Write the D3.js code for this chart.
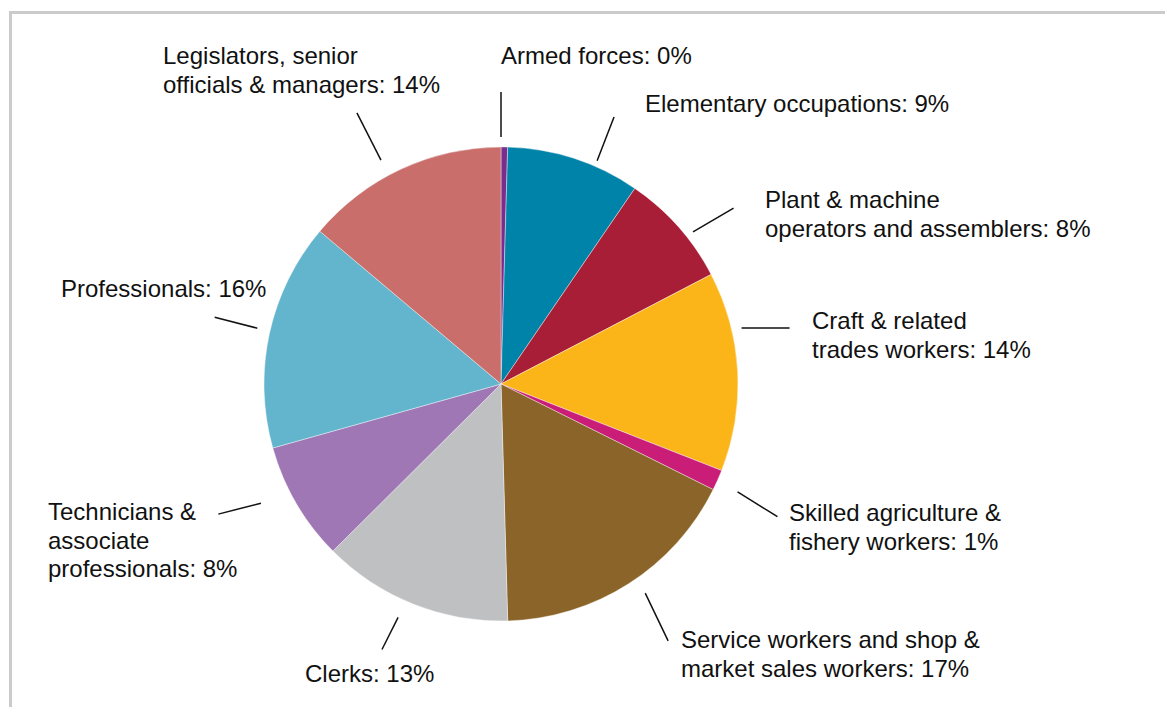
<!DOCTYPE html>
<html>
<head>
<meta charset="utf-8">
<script src="https://cdn.jsdelivr.net/npm/d3@7"></script>
<style>
  html, body { margin: 0; padding: 0; background: #fff; }
  svg { display: block; }
  text { font-family: "Liberation Sans", Arial, Helvetica, sans-serif; fill: #111; }
</style>
</head>
<body>
<svg id="chart" width="1165" height="707"></svg>
<script>
// Employment by occupation (share of total, %)
const categories = [
  "Armed forces",
  "Elementary occupations",
  "Plant & machine operators and assemblers",
  "Craft & related trades workers",
  "Skilled agriculture & fishery workers",
  "Service workers and shop & market sales workers",
  "Clerks",
  "Technicians & associate professionals",
  "Professionals",
  "Legislators, senior officials & managers"
];
const shares = [0.45, 9.1, 7.8, 13.6, 1.4, 17.2, 13.0, 8.1, 15.5, 13.85];

// Label text broken into lines; the percentage is appended to the last line
const labelLines = [
  ["Armed forces:"],
  ["Elementary occupations:"],
  ["Plant & machine", "operators and assemblers:"],
  ["Craft & related", "trades workers:"],
  ["Skilled agriculture &", "fishery workers:"],
  ["Service workers and shop &", "market sales workers:"],
  ["Clerks:"],
  ["Technicians &", "associate", "professionals:"],
  ["Professionals:"],
  ["Legislators, senior", "officials & managers:"]
];

const colors = [
  "#7b2d8e", "#0083a9", "#a91e37", "#fbb519", "#c91d78",
  "#8a6428", "#bfc0c2", "#a077b5", "#62b5cd", "#c96e6b"
];

// Leader layout: where the line leaves the pie (angle in degrees clockwise from
// 12 o'clock, distance beyond the rim), its direction and length, and the
// position of the label's first baseline.
const leaders = [
  { at: 0,     gap: 10, dir: 0,     len: 45, tx: 501, ty: 64 },
  { at: 23.3,  gap: 6,  dir: 21.1,  len: 47, tx: 645, ty: 112 },
  { at: 51.6,  gap: 8,  dir: 59.7,  len: 47, tx: 765, ty: 208 },
  { at: 76.9,  gap: 10, dir: 90,    len: 48, tx: 812, ty: 329 },
  { at: 114.5, gap: 23, dir: 122,   len: 47, tx: 789, ty: 521 },
  { at: 145.4, gap: 17, dir: 154.4, len: 53, tx: 681, ty: 648 },
  { at: 203.8, gap: 18, dir: 206.6, len: 36, tx: 305, ty: 682 },
  { at: 243.6, gap: 31, dir: 255.6, len: 44, tx: 48,  ty: 520 },
  { at: 282.9, gap: 13, dir: 284.3, len: 44, tx: 61,  ty: 297 },
  { at: 331.8, gap: 17, dir: 333,   len: 53, tx: 163, ty: 64 }
];

const width = 1165, height = 707;
const cx = 501, cy = 384, radius = 237;
const fontSize = 24, lineHeight = 28.7;

const svg = d3.select("#chart");

// Frame: light grey rules along the top and left
svg.append("line")
  .attr("x1", 9).attr("x2", width).attr("y1", 12.5).attr("y2", 12.5)
  .attr("stroke", "#cbcbcb").attr("stroke-width", 3);
svg.append("line")
  .attr("x1", 10.5).attr("x2", 10.5).attr("y1", 11).attr("y2", height)
  .attr("stroke", "#cbcbcb").attr("stroke-width", 3);

const data = categories.map((name, i) => ({ name, value: shares[i], i }));
const total = d3.sum(shares);

const pie = d3.pie().value(d => d.value).sort(null);
const arc = d3.arc().innerRadius(0).outerRadius(radius);
const arcs = pie(data);

const g = svg.append("g").attr("transform", `translate(${cx},${cy})`);

g.selectAll("path.slice")
  .data(arcs)
  .join("path")
  .attr("class", "slice")
  .attr("d", arc)
  .attr("fill", d => colors[d.data.i])
  .attr("stroke", "#fff")
  .attr("stroke-width", 0.4);

const rad = deg => deg * Math.PI / 180;
const polar = (angleDeg, r) => [r * Math.sin(rad(angleDeg)), -r * Math.cos(rad(angleDeg))];

// Leader lines
g.selectAll("line.leader")
  .data(leaders)
  .join("line")
  .attr("class", "leader")
  .each(function (d) {
    const [x1, y1] = polar(d.at, radius + d.gap);
    const [dx, dy] = polar(d.dir, d.len);
    d3.select(this)
      .attr("x1", x1).attr("y1", y1)
      .attr("x2", x1 + dx).attr("y2", y1 + dy);
  })
  .attr("stroke", "#111")
  .attr("stroke-width", 1.5);

// Labels
const fmtPct = v => `${Math.round(v / total * 100)}%`;

svg.selectAll("text.label")
  .data(data)
  .join("text")
  .attr("class", "label")
  .attr("x", d => leaders[d.i].tx)
  .attr("y", d => leaders[d.i].ty)
  .style("font-size", fontSize + "px")
  .each(function (d) {
    const lines = labelLines[d.i];
    const t = d3.select(this);
    lines.forEach((ln, k) => {
      t.append("tspan")
        .attr("x", leaders[d.i].tx)
        .attr("dy", k === 0 ? 0 : lineHeight)
        .text(k === lines.length - 1 ? `${ln} ${fmtPct(d.value)}` : ln);
    });
  });
</script>
</body>
</html>
